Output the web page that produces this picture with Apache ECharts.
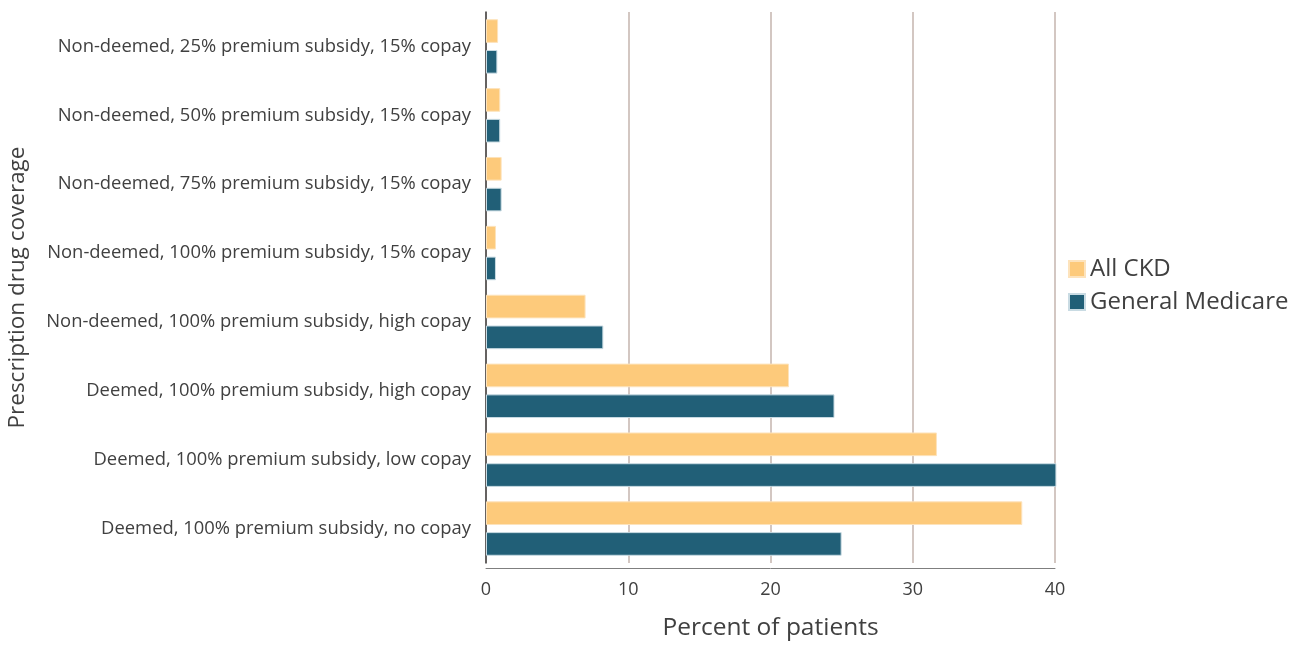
<html>
    <head>
        <meta charset="utf-8">
        <script src="https://cdn.jsdelivr.net/npm/echarts@6/dist/echarts.min.js"></script>
    </head>
    <body>
        <style>
            html, body, #main {
                width: 100%;
                height: 100%;
                margin: 0;
                background: #fff;
            }
        </style>
        <div id='main'></div>
        <script>
        var categories = [
            'Non-deemed, 25% premium subsidy, 15% copay',
            'Non-deemed, 50% premium subsidy, 15% copay',
            'Non-deemed, 75% premium subsidy, 15% copay',
            'Non-deemed, 100% premium subsidy, 15% copay',
            'Non-deemed, 100% premium subsidy, high copay',
            'Deemed, 100% premium subsidy, high copay',
            'Deemed, 100% premium subsidy, low copay',
            'Deemed, 100% premium subsidy, no copay'
        ];
        var allCkd = [0.85, 1.0, 1.1, 0.7, 7.0, 21.3, 31.7, 37.7];
        var generalMedicare = [0.8, 1.0, 1.1, 0.7, 8.25, 24.5, 40.1, 25.0];
        var xTicks = [0, 10, 20, 30, 40];

        var font = 'Open Sans';
        var chart = echarts.init(document.getElementById('main'));
        var option = {
            animation: false,
            textStyle: { fontFamily: font },
            grid: { left: 486, right: 258, top: 12, bottom: 79, containLabel: false },
            legend: {
                orient: 'vertical',
                left: 1063,
                top: 252,
                itemWidth: 16,
                itemHeight: 16,
                itemGap: 9,
                icon: 'rect',
                textStyle: { fontSize: 24, color: '#404040', fontFamily: font },
                data: ['All CKD', 'General Medicare']
            },
            xAxis: {
                type: 'value',
                min: xTicks[0],
                max: xTicks[xTicks.length - 1],
                interval: 10,
                offset: 5,
                name: 'Percent of patients',
                nameLocation: 'middle',
                nameGap: 48,
                nameTextStyle: { fontSize: 24.5, color: '#404040' },
                axisLine: { show: true, lineStyle: { color: '#7f7f7f', width: 1 } },
                axisTick: { show: false },
                axisLabel: { fontSize: 18, color: '#404040', margin: 13 },
                splitLine: { show: true, lineStyle: { color: '#c4b5ae', width: 1.5 } }
            },
            yAxis: {
                type: 'category',
                inverse: true,
                data: categories,
                name: 'Prescription drug coverage',
                nameLocation: 'middle',
                nameGap: 457,
                nameTextStyle: { fontSize: 22.5, color: '#404040' },
                axisLine: { show: true, lineStyle: { color: '#404040', width: 1.5 } },
                axisTick: { show: false },
                axisLabel: { fontSize: 18.4, color: '#404040', margin: 15 }
            },
            series: [
                {
                    name: 'All CKD',
                    type: 'bar',
                    data: allCkd,
                    clip: false,
                    barGap: '30%',
                    barCategoryGap: '21%',
                    itemStyle: { color: '#fdca7b', borderColor: '#fde3bc', borderWidth: 1 }
                },
                {
                    name: 'General Medicare',
                    type: 'bar',
                    data: generalMedicare,
                    clip: false,
                    barGap: '30%',
                    barCategoryGap: '21%',
                    itemStyle: { color: '#215f77', borderColor: '#c9dbe3', borderWidth: 1 }
                }
            ]
        };
        chart.setOption(option);
        window.onresize = chart.resize;
        </script>
    </body>
</html>
